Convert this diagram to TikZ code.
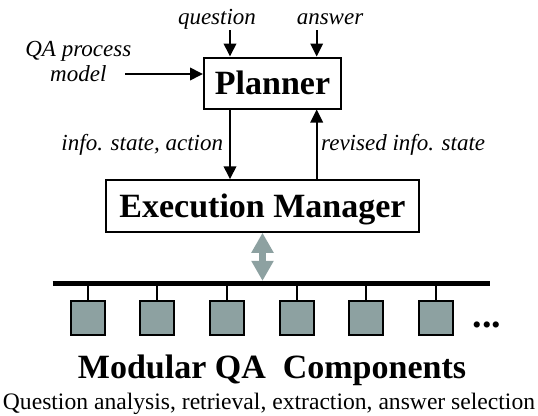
\documentclass[tikz,border=0pt]{standalone}
\usepackage{fontspec}
\setmainfont{Liberation Serif}
\usetikzlibrary{arrows.meta,calc}
\definecolor{compgray}{RGB}{141,161,161}
\begin{document}
\begin{tikzpicture}[x=1pt,y=-1pt,
  arr/.style={line width=2pt,-{Triangle[length=13pt,width=12.5pt]}},
  bigbox/.style={draw,line width=2pt,inner sep=0pt,text depth=0pt,
    font=\fontsize{34}{38}\selectfont\bfseries},
  lbl/.style={inner sep=0pt,font=\fontsize{23}{25}\selectfont\itshape},
  comp/.style={draw,line width=2pt,fill=compgray,minimum size=34pt,inner sep=0pt},
]
\useasboundingbox (0,0) rectangle (538,415);
% main boxes
\node[bigbox,minimum width=137pt,minimum height=51pt] (planner) at (272.5,83) {Planner};
\node[bigbox,minimum width=313pt,minimum height=51.5pt] (em) at (262.5,206) {Execution Manager};
% labels
\node[lbl,anchor=base] (question) at (217,24.5) {question};
\node[lbl,anchor=base] (answer) at (330,24) {answer};
\node[lbl,anchor=north,align=center,font=\fontsize{23}{25}\selectfont\itshape] (qa) at (78.3,41) {QA process\\model};
\node[lbl,anchor=base east] (info) at (223.3,150.5) {info. state, action};
\node[lbl,anchor=base west] (rev) at (321,150.5) {revised info. state};
% input arrows
\coordinate (qin) at (230,30);
\coordinate (ain) at (316.7,30);
\coordinate (qastart) at (125,74);
\draw[arr] (qin) -- (qin |- planner.north);
\draw[arr] (ain) -- (ain |- planner.north);
\draw[arr] (qastart) -- (qastart -| planner.west);
% planner <-> execution manager
\draw[arr] (planner.south -| qin) -- (em.north -| qin);
\draw[arr] (em.north -| ain) -- (planner.south -| ain);
% bus
\coordinate (busL) at (52.7,283.3);
\coordinate (busR) at (490,283.3);
\draw[line width=4.7pt] (busL) -- (busR);
% gray double arrow
\draw[line width=7.5pt,color=compgray,
  {Triangle[length=20pt,width=21pt]}-{Triangle[length=20pt,width=21pt]}]
  (em.south) -- ([yshift=2.4pt]em.south |- busL);
% components
\foreach \i in {0,...,5}{
  \node[comp] (c\i) at (87.7+69.66*\i,318) {};
  \draw[line width=2pt] (c\i.north) -- (c\i.north |- busL);
}
\node[inner sep=0pt,anchor=base west,font=\fontsize{38}{40}\selectfont\bfseries] (dots) at (472.5,327) {...};
% captions
\node[inner sep=0pt,anchor=base,font=\fontsize{34}{38}\selectfont\bfseries] (title) at (272,378.3) {Modular QA\ \ Components};
\node[inner sep=0pt,anchor=base,font=\fontsize{23.6}{26}\selectfont] (sub) at (269,409.5) {Question analysis, retrieval, extraction, answer selection};
\end{tikzpicture}
\end{document}
